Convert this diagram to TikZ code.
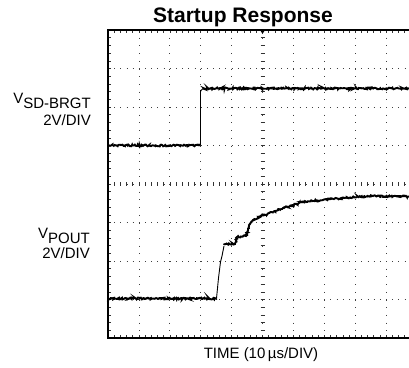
\documentclass[tikz,border=0pt]{standalone}
\usepackage{fontspec}
\setmainfont{Liberation Sans}
\usetikzlibrary{decorations.pathmorphing}

\begin{document}
\begin{tikzpicture}[
    x=1pt, y=-1pt,
    frame/.style={draw, line width=1.8pt},
    gridline/.style={black!75, line width=0.8pt},
    minortick/.style={black!80, line width=0.6pt},
    trace/.style={line width=1.9pt, decorate, decoration={random steps, segment length=0.9pt, amplitude=0.9pt}},
    edge/.style={line width=0.9pt},
    label/.style={font=\fontsize{15}{18}\selectfont, inner sep=0pt}
]
    \pgfmathsetseed{7}
    \useasboundingbox (0,0) rectangle (409,367);

    \begin{scope}
        \clip (0,0) rectangle (409,367);
        % dotted grid
        \foreach \i in {1,...,9}
            \draw[gridline, dash pattern=on 0.8pt off 6.9pt] (108+\i*30.9,30) -- (108+\i*30.9,338);
        \foreach \j in {1,...,7}
            \draw[gridline, dash pattern=on 0.8pt off 5.38pt] (108,30+\j*38.5) -- (409,30+\j*38.5);
        % minor ticks on centre lines and frame
        \foreach \k in {1,...,49} {
            \draw[minortick] (108+\k*6.18,182) -- ++(0,4);
            \draw[minortick] (108+\k*6.18,30) -- ++(0,3);
            \draw[minortick] (108+\k*6.18,338) -- ++(0,-3);
        }
        \foreach \k in {1,...,39} {
            \draw[minortick] (260.5,30+\k*7.7) -- ++(4,0);
            \draw[minortick] (108,30+\k*7.7) -- ++(3,0);
        }
        \draw[frame] (409,30) -- (108,30) -- (108,338) -- (409,338);
        \fill (259.5,29) -- (265.5,29) -- (262.5,34) -- cycle;

        % V_SD-BRGT trace
        \draw[trace] (108,145.5) -- (200.5,145.5);
        \draw[edge] (200.5,145.5) -- (200.5,91) to[out=-90,in=180] (203,88.5);
        \draw[trace] (203,88.5) -- (409,88.5);

        % V_POUT trace
        \draw[trace] (108,298.5) -- (216.5,298.5);
        \draw[edge] (216.5,298.5) -- (218.5,278) -- (220.5,262) -- (222,256) -- (224,246);
        \draw[trace] (224,245) -- (226,244) -- (235,244) -- (237,237)
            -- (246,236) -- (248,230) -- (250,224) -- (253,220)
            -- (263,215.5) -- (273,212) -- (283,208) -- (293,205) -- (303,202)
            -- (323,200) -- (350,197.5) -- (373,196) -- (409,196.5);
    \end{scope}

    \node[font=\bfseries\fontsize{21}{25}\selectfont, anchor=base, inner sep=0pt] (title) at (243,22.5) {Startup Response};
    \node[label, anchor=base east] (vsd) at (91,108) {\raisebox{5pt}{V}SD-BRGT};
    \node[label, anchor=base east] (vsddiv) at (91,125) {2V/DIV};
    \node[label, anchor=base east] (vpout) at (90,243) {\raisebox{5pt}{V}POUT};
    \node[label, anchor=base east] (vpoutdiv) at (90,258) {2V/DIV};
    \node[label, anchor=base] (time) at (261,358) {TIME (10\,µs/DIV)};
\end{tikzpicture}
\end{document}
